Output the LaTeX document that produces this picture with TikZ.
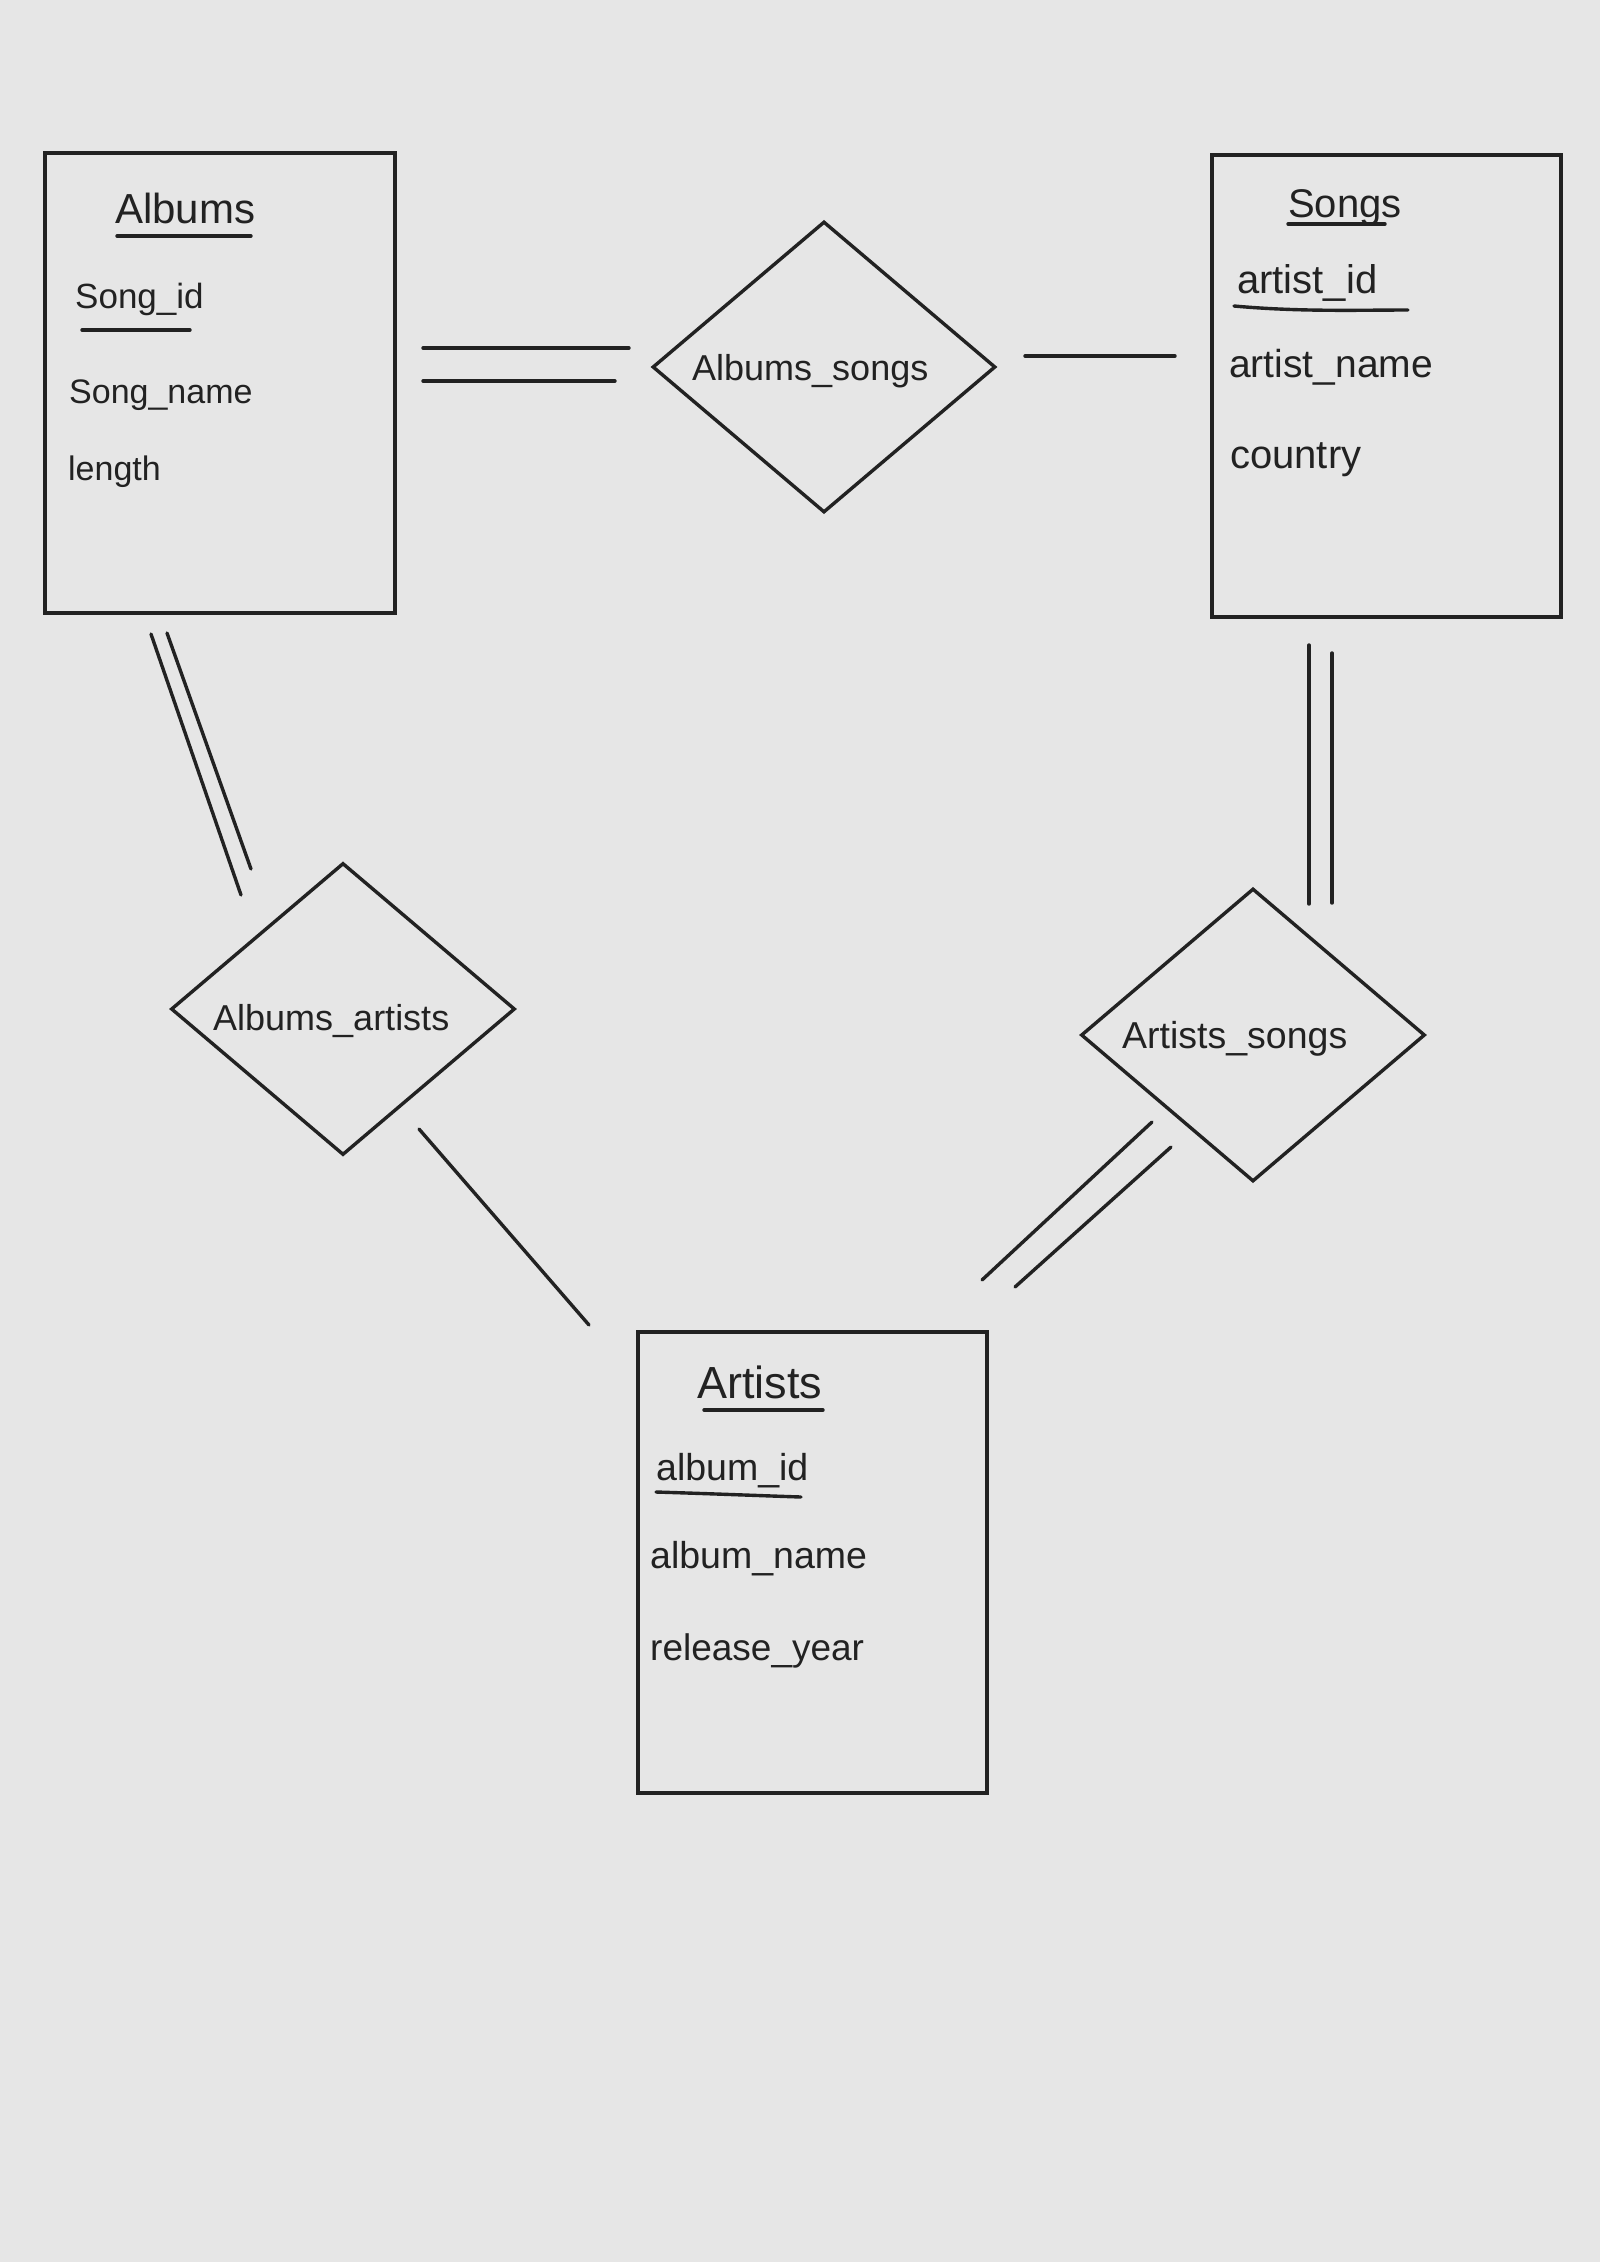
\documentclass[tikz,border=0pt]{standalone}
\usepackage{fontspec}
\setmainfont{Liberation Sans}
\usetikzlibrary{shapes.geometric}
\definecolor{bg}{HTML}{E6E6E6}
\definecolor{ink}{HTML}{222222}
\newcommand{\fsz}[1]{\fontsize{#1}{#1}\selectfont}
\tikzset{
  ink line/.style={draw=ink, line width=3.4pt, line cap=round},
  entity/.style={rectangle, draw=ink, line width=3.4pt, inner sep=0pt},
  relation/.style={diamond, draw=ink, line width=3.4pt, inner sep=0pt},
  txt/.style={anchor=base west, inner sep=0pt, text=ink},
}
\begin{document}
\begin{tikzpicture}[x=1pt, y=-1pt]
\fill[bg] (0,0) rectangle (1600,2262);
\useasboundingbox (0,0) rectangle (1600,2262);

% entities
\node[entity, minimum width=350pt, minimum height=460pt] (albums) at (220,383) {};
\node[entity, minimum width=349pt, minimum height=462pt] (songs) at (1386.5,386) {};
\node[entity, minimum width=349pt, minimum height=461pt] (artists) at (812.5,1562.5) {};

% relations
\node[relation, minimum width=343pt, minimum height=291pt] (albsongs) at (824,367) {};
\node[relation, minimum width=344pt, minimum height=292pt] (albartists) at (343,1009) {};
\node[relation, minimum width=344pt, minimum height=293pt] (artsongs) at (1253,1035) {};

% texts: Albums
\node[txt, font=\fsz{42}] (tAlbums) at (115,223) {Albums};
\node[txt, font=\fsz{35}] (tSongid) at (75,308) {Song\_id};
\node[txt, font=\fsz{34}] (tSongname) at (69,403) {Song\_name};
\node[txt, font=\fsz{34}] (tLength) at (68,480) {length};
\draw[ink line] (117,236) -- (251,236);
\draw[ink line] (82,330) -- (190,330);

% texts: Songs
\node[txt, font=\fsz{40}] (tSongs) at (1288,217) {Songs};
\node[txt, font=\fsz{40}] (tArtistid) at (1237,293) {artist\_id};
\node[txt, font=\fsz{39}] (tArtistname) at (1229,377) {artist\_name};
\node[txt, font=\fsz{40}] (tCountry) at (1230,468) {country};
\draw[ink line] (1288,224) -- (1385,224);
\draw[ink line] (1234,306) .. controls (1300,312) and (1360,310) .. (1408,310);

% texts: Artists
\node[txt, font=\fsz{45}] (tArtists) at (697,1398) {Artists};
\node[txt, font=\fsz{37.5}] (tAlbumid) at (656,1480) {album\_id};
\node[txt, font=\fsz{37.5}] (tAlbumname) at (650,1568) {album\_name};
\node[txt, font=\fsz{37}] (tRelease) at (650,1660) {release\_year};
\draw[ink line] (704,1410) -- (823,1410);
\draw[ink line] (656,1492) .. controls (720,1494) and (770,1496) .. (801,1497);

% relation labels
\node[txt, font=\fsz{36}] (lAlbSongs) at (692,380) {Albums\_songs};
\node[txt, font=\fsz{36}] (lAlbArtists) at (213,1030) {Albums\_artists};
\node[txt, font=\fsz{37.5}] (lArtSongs) at (1122,1048) {Artists\_songs};

% connector end points
\coordinate (a1) at (423,348); \coordinate (b1) at (629,348);
\coordinate (a2) at (423,381); \coordinate (b2) at (615,381);
\coordinate (a3) at (1025,356); \coordinate (b3) at (1175,356);
\coordinate (a4) at (151,634); \coordinate (b4) at (241,895);
\coordinate (a5) at (167,633); \coordinate (b5) at (251,869);
\coordinate (a6) at (419,1129); \coordinate (b6) at (589,1325);
\coordinate (a7) at (1309,645); \coordinate (b7) at (1309,904);
\coordinate (a8) at (1332,653); \coordinate (b8) at (1332,903);
\coordinate (a9) at (1152,1122); \coordinate (b9) at (982,1280);
\coordinate (a10) at (1171,1147); \coordinate (b10) at (1015,1287);

% connectors
\draw[ink line] (a1) -- (b1);
\draw[ink line] (a2) -- (b2);
\draw[ink line] (a3) -- (b3);
\draw[ink line] (a4) -- (b4);
\draw[ink line] (a5) -- (b5);
\draw[ink line] (a6) -- (b6);
\draw[ink line] (a7) -- (b7);
\draw[ink line] (a8) -- (b8);
\draw[ink line] (a9) -- (b9);
\draw[ink line] (a10) -- (b10);
\end{tikzpicture}
\end{document}
